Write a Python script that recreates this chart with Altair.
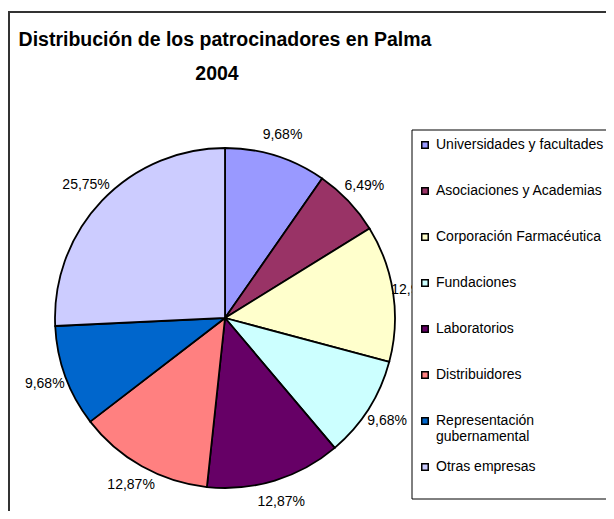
import altair as alt
import pandas as pd

categories = [
    "Universidades y facultades",
    "Asociaciones y Academias",
    "Corporación Farmacéutica",
    "Fundaciones",
    "Laboratorios",
    "Distribuidores",
    "Representación gubernamental",
    "Otras empresas",
]
values = [9.68, 6.49, 12.98, 9.68, 12.87, 12.87, 9.68, 25.75]
colors = ["#9999FF", "#993366", "#FFFFCC", "#CCFFFF", "#660066", "#FF8080", "#0066CC", "#CCCCFF"]
title_lines = ["Distribución de los patrocinadores en Palma", "2004"]

df = pd.DataFrame({"cat": categories, "value": values, "idx": list(range(len(categories)))})
df["label"] = [f"{v:.2f}".replace(".", ",") + "%" for v in values]

W, H = 598, 503
CX, CY, R = 217, 310, 170
FONT = "Liberation Sans"

one = pd.DataFrame({"a": [0]})

frame_top = alt.Chart(one).mark_rule(color="#333333", strokeWidth=2).encode(
    x=alt.value(0), x2=alt.value(W), y=alt.value(4)
)
frame_left = alt.Chart(one).mark_rule(color="#333333", strokeWidth=2).encode(
    x=alt.value(1), y=alt.value(4), y2=alt.value(H)
)

base = alt.Chart(df).encode(
    theta=alt.Theta("value:Q", stack=True),
    order=alt.Order("idx:Q"),
)

label_expr = "datum.label == 'Representación gubernamental' ? ['Representación', 'gubernamental'] : datum.label"

pie = base.mark_arc(radius=R, stroke="black", strokeWidth=1.8, opacity=1).encode(
    x=alt.value(CX),
    y=alt.value(CY),
    color=alt.Color(
        "cat:N",
        scale=alt.Scale(domain=categories, range=colors),
        sort=categories,
        legend=alt.Legend(
            title=None,
            orient="none",
            legendX=410,
            legendY=114,
            symbolType="square",
            symbolSize=42,
            symbolStrokeColor="black",
            symbolStrokeWidth=1.5,
            symbolOpacity=1,
            labelFont=FONT,
            labelFontSize=14,
            labelColor="black",
            labelOffset=4,
            labelLimit=400,
            clipHeight=46,
            rowPadding=0,
            padding=0,
            labelExpr=label_expr,
        ),
    ),
)

labels = base.mark_text(radius=192, font=FONT, fontSize=14, color="black").encode(
    x=alt.value(CX), y=alt.value(CY), text="label:N"
)

box = alt.Chart(one).mark_rect(fill="white", stroke="black", strokeWidth=1).encode(
    x=alt.value(404), x2=alt.value(W + 10), y=alt.value(122), y2=alt.value(491)
)

title1 = alt.Chart(one).mark_text(
    font=FONT, fontSize=19.5, fontWeight="bold", align="center", baseline="middle", color="black"
).encode(x=alt.value(CX), y=alt.value(32), text=alt.value(title_lines[0]))
title2 = alt.Chart(one).mark_text(
    font=FONT, fontSize=19.5, fontWeight="bold", align="center", baseline="middle", color="black"
).encode(x=alt.value(CX - 8), y=alt.value(66), text=alt.value(title_lines[1]))

chart = alt.layer(frame_top, frame_left, pie, labels, box, title1, title2).properties(
    width=W, height=H, padding=0, autosize=alt.AutoSizeParams(type="none")
).configure_view(strokeWidth=0)

chart.save("out.html", embed_options={"renderer": "svg", "actions": False})
